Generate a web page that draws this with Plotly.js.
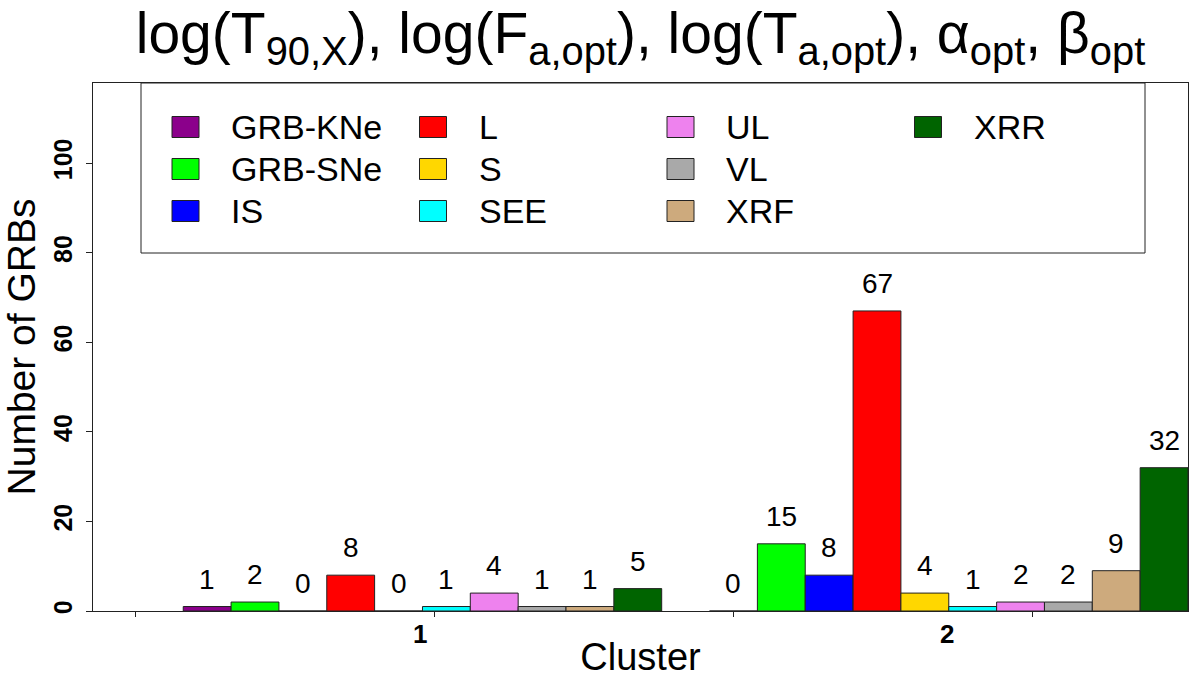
<!DOCTYPE html>
<html>
<head>
<meta charset="utf-8">
<script src="https://cdn.plot.ly/plotly-3.0.1.min.js"></script>
<style>html,body{margin:0;padding:0;background:#fff;}#chart{width:1200px;height:680px;}</style>
</head>
<body>
<div id="chart"></div>
<script>
// ---- data ----
const clusters = ['1', '2'];
const seriesNames = ['GRB-KNe', 'GRB-SNe', 'IS', 'L', 'S', 'SEE', 'UL', 'VL', 'XRF', 'XRR'];
const seriesColors = ['#8B008B', '#00FF00', '#0000FF', '#FF0000', '#FFD700', '#00FFFF', '#EE82EE', '#A9A9A9', '#CDAA7D', '#006400'];
const cluster1Counts = [1, 2, 0, 8, 0, 1, 4, 1, 1, 5];
const cluster2Counts = [0, 15, 8, 67, 4, 1, 2, 2, 9, 32];
const yTickValues = [0, 20, 40, 60, 80, 100];
// R-style axis ticks in bar-unit coordinates (0 = start of first group space)
const xTickBarUnits = [0, 6.25, 12.5, 18.75];

// ---- layout helpers ----
const FONT = '"Liberation Sans", Arial, Helvetica, sans-serif';
const nSeries = seriesNames.length;
const slot = 1 / (nSeries + 1);            // width of one bar in category units
const M = {l: 93, r: 12, t: 83, b: 69};
const W = 1200, H = 680;
const PW = W - M.l - M.r, PH = H - M.t - M.b;
const px = x => (x - M.l) / PW;
const py = y => (H - M.b - y) / PH;

const counts = [cluster1Counts, cluster2Counts];

const traces = seriesNames.map((name, i) => ({
  type: 'bar',
  name: name,
  x: [0, 1],
  y: counts.map(c => c[i]),
  marker: {color: seriesColors[i], line: {color: '#222', width: 1}},
  hoverinfo: 'name+y',
  showlegend: false
}));

const annotations = [];
// value labels above bars
seriesNames.forEach((name, i) => {
  counts.forEach((c, g) => {
    annotations.push({
      x: g + (i - (nSeries - 1) / 2) * slot,
      y: c[i], xref: 'x', yref: 'y',
      text: String(c[i]), showarrow: false,
      yanchor: 'bottom', yshift: 10,
      font: {family: FONT, size: 28, color: '#000'}
    });
  });
});
// cluster labels
clusters.forEach((lab, g) => {
  annotations.push({
    x: g, y: 0, xref: 'x', yref: 'paper', yanchor: 'top', yshift: -6,
    xshift: -2,
    text: '<b>' + lab + '</b>', showarrow: false,
    font: {family: FONT, size: 26, color: '#000'}
  });
});

// legend (4 columns, filled column-wise, 3 rows)
const shapes = [{
  type: 'rect', xref: 'paper', yref: 'paper',
  x0: px(141), x1: px(1145), y0: py(253), y1: py(83),
  line: {color: '#222', width: 1}, fillcolor: 'rgba(0,0,0,0)'
}];
seriesNames.forEach((name, i) => {
  const col = Math.floor(i / 3), row = i % 3;
  const sx = 172 + 247.5 * col, cy = 127 + 42 * row;
  shapes.push({
    type: 'rect', xref: 'paper', yref: 'paper',
    x0: px(sx), x1: px(sx + 27), y0: py(cy + 10.5), y1: py(cy - 10.5),
    fillcolor: seriesColors[i], line: {color: '#222', width: 1}
  });
  annotations.push({
    x: px(sx + 57), y: py(cy), xref: 'paper', yref: 'paper',
    xanchor: 'left', yanchor: 'middle', text: name, showarrow: false,
    font: {family: FONT, size: 34, color: '#000'}
  });
});

const xTickVals = xTickBarUnits.map(r => (r - (nSeries / 2 + 1)) * slot);

const layout = {
  width: W, height: H,
  margin: M,
  paper_bgcolor: '#fff', plot_bgcolor: '#fff',
  font: {family: FONT, color: '#000'},
  title: {
    text: 'log(T<sub>90,X</sub>), log(F<sub>a,opt</sub>), log(T<sub>a,opt</sub>), α<sub>opt</sub>, β<sub>opt</sub>',
    font: {family: FONT, size: 57, color: '#000'},
    x: 0.5, xref: 'paper', xanchor: 'center',
    y: 0.952, yref: 'container', yanchor: 'middle'
  },
  barmode: 'group', bargap: slot, bargroupgap: 0,
  xaxis: {
    range: [-0.626, 1 + (nSeries / 2) * slot],
    tickvals: xTickVals, ticktext: xTickVals.map(() => ''),
    ticks: 'outside', ticklen: 5, tickcolor: '#222',
    showline: true, mirror: true, linecolor: '#222', linewidth: 1,
    showgrid: false, zeroline: false,
    title: {text: 'Cluster', font: {family: FONT, size: 38, color: '#000'}, standoff: 24}
  },
  yaxis: {
    range: [0, 117.9],
    tickvals: yTickValues,
    ticks: 'outside', ticklen: 6, tickcolor: '#222',
    tickangle: -90, ticklabelstandoff: 4,
    tickfont: {family: FONT, size: 25, color: '#000', weight: 'bold'},
    showline: true, mirror: true, linecolor: '#222', linewidth: 1,
    showgrid: false, zeroline: false,
    title: {text: 'Number of GRBs', font: {family: FONT, size: 39, color: '#000'}, standoff: 6}
  },
  shapes: shapes,
  annotations: annotations
};

Plotly.newPlot('chart', traces, layout, {displayModeBar: false, staticPlot: true});
</script>
</body>
</html>
